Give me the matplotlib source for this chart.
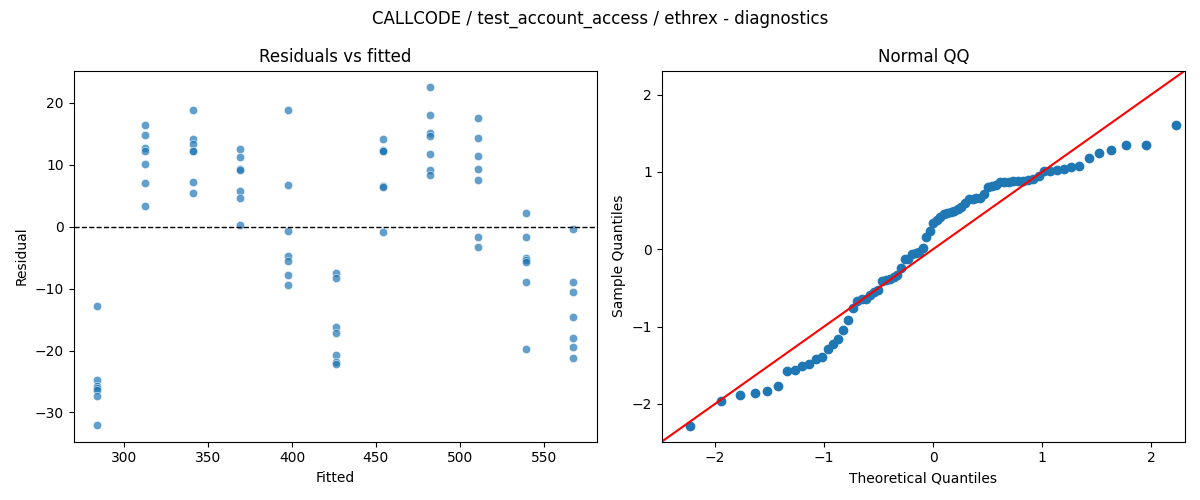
import numpy as np
import matplotlib
matplotlib.use("Agg")
import matplotlib.pyplot as plt
import seaborn as sns
from statistics import NormalDist

title = "CALLCODE / test_account_access / ethrex - diagnostics"

# fitted value of each group (x position in the left plot)
fitted_levels = [284.0, 312.5, 341.0, 369.0, 397.5, 426.0, 454.5, 482.5, 511.0, 539.5, 567.5]

# residuals, one list per fitted level
resid_by_level = [
    [-12.8, -24.7, -25.7, -26.0, -26.4, -27.4, -32.0],
    [16.5, 14.9, 12.7, 12.2, 10.1, 7.0, 3.3],
    [18.8, 14.2, 13.3, 12.3, 12.2, 7.3, 5.4],
    [12.5, 11.2, 9.3, 9.2, 5.8, 4.7, 0.3],
    [18.9, 6.8, -0.7, -4.7, -5.6, -7.8, -9.4],
    [-7.4, -8.3, -16.2, -17.2, -20.7, -21.9, -22.1],
    [14.1, 12.4, 12.3, 12.2, 6.6, 6.4, -0.9],
    [22.5, 18.0, 15.1, 14.6, 11.7, 9.1, 8.3],
    [17.5, 14.3, 11.5, 9.3, 7.6, -1.7, -3.3],
    [2.3, -1.7, -5.0, -5.4, -5.7, -9.0, -19.8],
    [-0.4, -9.0, -10.6, -14.6, -18.0, -19.5, -21.2],
]

fitted = []
resid = []
for lvl, vals in zip(fitted_levels, resid_by_level):
    fitted += [lvl] * len(vals)
    resid += vals
fitted = np.array(fitted)
resid = np.array(resid)

# QQ data (like statsmodels qqplot with fit=True, line='45')
n = len(resid)
sample_q = np.sort((resid - resid.mean()) / resid.std())
nd = NormalDist()
theo_q = np.array([nd.inv_cdf(i / (n + 1)) for i in range(1, n + 1)])

fig, (ax1, ax2) = plt.subplots(1, 2, figsize=(12, 5), dpi=100)

sns.scatterplot(x=fitted, y=resid, ax=ax1, alpha=0.7)
ax1.axhline(0, color="k", linestyle="--", linewidth=1)
ax1.set_title("Residuals vs fitted")
ax1.set_xlabel("Fitted")
ax1.set_ylabel("Residual")

ax2.plot(theo_q, sample_q, marker="o", linestyle="none",
         markerfacecolor="C0", markeredgecolor="C0")
# 45 degree reference line spanning the (shared) axis limits
end_pts = [-2.49, 2.31]
ax2.plot(end_pts, end_pts, color="r")
ax2.set_xlim(end_pts)
ax2.set_ylim(end_pts)
ax2.set_xlabel("Theoretical Quantiles")
ax2.set_ylabel("Sample Quantiles")
ax2.set_title("Normal QQ")

fig.suptitle(title)
fig.tight_layout()
fig.savefig("out.png")
